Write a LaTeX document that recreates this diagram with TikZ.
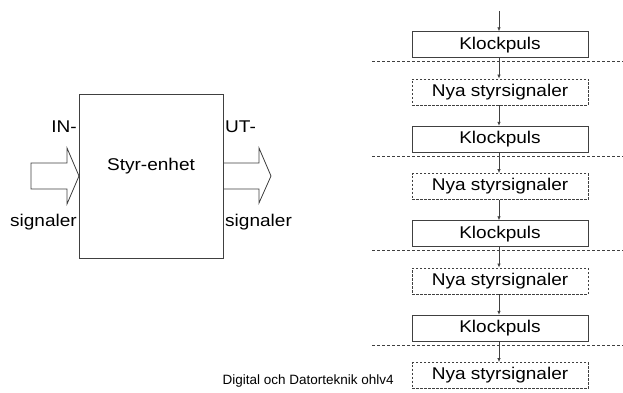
\documentclass[tikz,border=0pt]{standalone}
\usepackage{fontspec}
\setmainfont{Liberation Sans}[FakeStretch=1.12]
\newfontfamily\footfont{Liberation Sans}
\usetikzlibrary{arrows.meta}
\tikzset{
  ln/.style={draw=black!75, line width=0.8pt},
  solidbox/.style={ln, fill=white, minimum width=176pt, minimum height=26pt, inner sep=0pt, font=\fontsize{17}{17}\selectfont},
  dashbox/.style={solidbox, dash pattern=on 2.5pt off 1.5pt},
  arr/.style={draw=black!75, line width=0.7pt, -{Latex[length=4pt,width=3.5pt]}},
  sep/.style={draw=black!75, line width=0.7pt, dash pattern=on 3pt off 2pt},
  lbl/.style={inner sep=0pt, font=\fontsize{17}{17}\selectfont},
  foot/.style={inner sep=0pt, font=\footfont\fontsize{13.5}{13.5}\selectfont}
}
\begin{document}
\begin{tikzpicture}[x=1pt,y=-1pt]
\useasboundingbox (0,0) rectangle (623,393);
% left block
\draw[ln, fill=white] (31,163) -- (67,163) -- (67,148) -- (79,176) -- (67,204) -- (67,189) -- (31,189) -- cycle;
\draw[ln, fill=white] (223,163) -- (259,163) -- (259,148) -- (271,176) -- (259,203) -- (259,189) -- (223,189);
\node[ln, minimum width=144pt, minimum height=164pt, inner sep=0pt] (unit) at (151,176) {};
\node[lbl] (name) at (151,166) {Styr-enhet};
\node[lbl, anchor=east] (inA) at (77,127) {IN-};
\node[lbl, anchor=east] (inB) at (77,222) {signaler};
\node[lbl, anchor=west] (utA) at (225,127) {UT-};
\node[lbl, anchor=west] (utB) at (225,222) {signaler};
% right column
\coordinate (top) at (499,11);
\foreach \i/\k/\n in {1/44.7/92, 2/139.2/186.5, 3/233.7/281, 4/328.2/375.5} {
  \node[solidbox] (k\i) at (500,\k) {Klockpuls};
  \node[dashbox] (n\i) at (500,\n) {Nya styrsignaler};
}
\foreach \i/\d in {1/61.5, 2/156, 3/250.5, 4/345} {
  \coordinate (sa\i) at (372,\d);
  \coordinate (sb\i) at (623,\d);
  \draw[sep] (sa\i) -- (sb\i);
}
\draw[arr] (top) -- (top |- k1.north);
\foreach \a/\b in {k1/n1, n1/k2, k2/n2, n2/k3, k3/n3, n3/k4, k4/n4} {
  \draw[arr] (499,0 |- \a.south) -- (499,0 |- \b.north);
}
\node[foot, anchor=west] (footer) at (222.5,381) {Digital och Datorteknik ohlv4};
\end{tikzpicture}
\end{document}
